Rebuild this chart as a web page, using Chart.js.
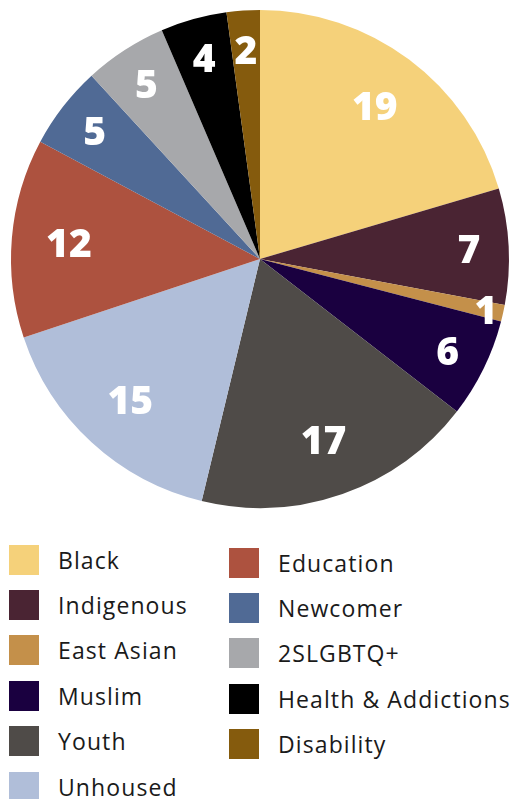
<!DOCTYPE html>
<html>
<head>
<meta charset="utf-8">
<script src="https://cdn.jsdelivr.net/npm/chart.js@4/dist/chart.umd.min.js"></script>
<style>
  html, body { margin: 0; padding: 0; background: #fff; }
  #wrap { position: relative; width: 516px; height: 799px; overflow: hidden; }
  #pieBox { position: absolute; left: 0; top: 0; width: 516px; height: 520px; }
  .legend-col { position: absolute; }
  .legend-item { display: flex; align-items: center; height: 45.4px; }
  .legend-item .box { width: 30px; height: 30px; flex: none; }
  .legend-item .txt {
    margin-left: 19px;
    font-family: "Open Sans", sans-serif;
    font-size: 23px;
    letter-spacing: 1.1px;
    color: #1a1a1a;
    white-space: nowrap;
  }
</style>
</head>
<body>
<div id="wrap">
  <div id="pieBox"><canvas id="myChart_Groups"></canvas></div>
  <div class="legend-col" id="legendLeft" style="left:9px; top:537px;"></div>
  <div class="legend-col" id="legendRight" style="left:229px; top:540px;"></div>
</div>
<script>
var categories = [
  "Black", "Indigenous", "East Asian", "Muslim", "Youth", "Unhoused",
  "Education", "Newcomer", "2SLGBTQ+", "Health & Addictions", "Disability"
];
var counts = [19, 7, 1, 6, 17, 15, 12, 5, 5, 4, 2];
var sliceColors = [
  "#F5D17A", "#4A2433", "#C4904A", "#1A0040", "#4F4B48", "#B0BED9",
  "#AD523F", "#506A95", "#A7A8AB", "#000000", "#855B0D"
];
var leftColumnSize = 6;

// white numbers inside each slice, small slices pushed toward the rim
var sliceLabels = {
  id: "sliceLabels",
  afterDatasetsDraw(chart) {
    var ctx = chart.ctx;
    var meta = chart.getDatasetMeta(0);
    ctx.save();
    ctx.fillStyle = "#ffffff";
    ctx.font = "800 39px 'Open Sans', sans-serif";
    ctx.textAlign = "center";
    ctx.textBaseline = "middle";
    meta.data.forEach((arc, i) => {
      var p = arc.getProps(["x", "y", "startAngle", "endAngle", "outerRadius"], true);
      var mid = (p.startAngle + p.endAngle) / 2;
      var f = counts[i] < 2 ? 0.93 : counts[i] >= 10 ? 0.77 : 0.84;
      var r = p.outerRadius * f;
      ctx.fillText(String(counts[i]), p.x + Math.cos(mid) * r, p.y + Math.sin(mid) * r + 3);
    });
    ctx.restore();
  },
};

function buildLegend() {
  var left = document.getElementById("legendLeft");
  var right = document.getElementById("legendRight");
  categories.forEach((name, i) => {
    var item = document.createElement("div");
    item.className = "legend-item";
    item.innerHTML =
      '<span class="box" style="background:' + sliceColors[i] + '"></span>' +
      '<span class="txt"></span>';
    item.querySelector(".txt").textContent = name;
    (i < leftColumnSize ? left : right).appendChild(item);
  });
}

window.addEventListener("load", function () {
  var ctx = document.getElementById("myChart_Groups").getContext("2d");
  new Chart(ctx, {
    type: "pie",
    data: {
      labels: categories,
      datasets: [
        {
          data: counts,
          backgroundColor: sliceColors,
          borderWidth: 0,
        },
      ],
    },
    options: {
      responsive: true,
      maintainAspectRatio: false,
      animation: false,
      layout: { padding: { top: 10, bottom: 12, left: 11, right: 7 } },
      plugins: {
        legend: { display: false },
        tooltip: { enabled: false },
      },
    },
    plugins: [sliceLabels],
  });
  buildLegend();
});
</script>
</body>
</html>
